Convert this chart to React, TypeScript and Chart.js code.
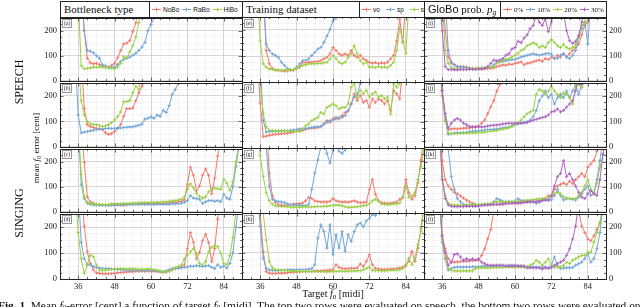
import React, { useEffect, useRef } from "react";
import { Chart, registerables } from "chart.js";

Chart.register(...registerables);

// ---------- axes ----------
const X_MIN = 30;
const X_MAX = 90;
const Y_MIN = 0;
const Y_MAX = 250;
const X_TICKS = [36, 48, 60, 72, 84];
const Y_TICKS = [0, 100, 200];
const X_MINOR = 3;
const Y_MINOR = 25;

// ---------- categories ----------
const BOTTLENECK = ["NoBo", "RaBo", "HiBo"];
const TRAINSET = ["vo", "sp", "si"];
const GLOBO = ["0%", "10%", "20%", "30%"];
const TAGS = ["(a)", "(b)", "(c)", "(d)", "(e)", "(f)", "(g)", "(h)", "(i)", "(j)", "(k)", "(l)"];

// ---------- data (mean f0 error in cent, one value per semitone from the start midi) ----------
// (a) speech / bottleneck type
const A_START = [37, 37, 36];
const A_NOBO = [360, 200, 90, 72, 68, 70, 65, 58, 53, 55, 62, 70, 92, 120, 147, 150, 160, 196, 230, 320];
const A_RABO = [360, 200, 121, 118, 112, 100, 90, 64, 60, 52, 54, 55, 65, 77, 85, 90, 95, 102, 110, 121, 135, 153, 200, 225, 250, 330];
const A_HIBO = [330, 60, 48, 50, 52, 55, 54, 56, 55, 54, 53, 50, 48, 55, 70, 96, 90, 115, 140, 175, 232, 320];
// (b) speech / bottleneck type
const B_START = [37, 35, 36];
const B_NOBO = [350, 151, 87, 80, 76, 73, 70, 68, 55, 49, 52, 61, 72, 87, 120, 150, 150, 152, 181, 212, 237, 330];
const B_RABO = [350, 125, 55, 58, 60, 63, 65, 68, 70, 70, 72, 73, 72, 73, 74, 74, 76, 77, 78, 79, 82, 85, 89, 109, 112, 118, 112, 125, 120, 143, 135, 162, 206, 225, 250, 330];
const B_HIBO = [340, 181, 125, 100, 90, 88, 87, 84, 80, 82, 87, 95, 106, 118, 137, 177, 178, 181, 212, 237, 225, 330];
// (c) singing / bottleneck type
const C_START = [37, 36, 36];
const C_NOBO = [350, 197, 60, 40, 35, 30, 28, 27, 26, 25, 26, 27, 28, 28, 27, 28, 30, 30, 30, 32, 33, 32, 33, 34, 33, 34, 33, 34, 35, 36, 38, 38, 40, 42, 48, 110, 178, 146, 84, 103, 146, 171, 146, 72, 134, 222, 330];
const C_RABO = [350, 109, 53, 34, 30, 28, 27, 26, 26, 25, 26, 27, 27, 28, 28, 29, 30, 30, 30, 31, 30, 31, 30, 30, 30, 29, 30, 31, 30, 30, 31, 32, 32, 33, 34, 38, 45, 65, 55, 53, 50, 34, 40, 45, 45, 42, 45, 40, 70, 55, 50, 100, 180, 260];
const C_HIBO = [340, 150, 60, 38, 33, 32, 30, 30, 29, 28, 30, 32, 33, 32, 33, 34, 33, 34, 35, 35, 36, 37, 38, 37, 38, 38, 39, 38, 40, 40, 42, 44, 45, 47, 50, 60, 90, 112, 95, 75, 62, 55, 60, 80, 92, 95, 92, 90, 130, 115, 85, 120, 200, 280];
// (d) singing / bottleneck type
const D_START = [37, 36, 35];
const D_NOBO = [350, 204, 105, 60, 35, 24, 22, 20, 20, 20, 21, 22, 24, 25, 26, 27, 28, 28, 30, 30, 31, 30, 31, 30, 30, 29, 27, 25, 27, 32, 36, 40, 43, 45, 54, 117, 179, 141, 78, 103, 147, 172, 141, 67, 117, 230, 330];
const D_RABO = [350, 141, 78, 55, 55, 48, 44, 42, 41, 40, 40, 38, 38, 37, 36, 35, 35, 34, 34, 34, 33, 33, 32, 33, 33, 32, 31, 30, 29, 31, 36, 40, 42, 42, 43, 45, 46, 50, 48, 52, 50, 48, 50, 52, 45, 40, 55, 45, 50, 42, 60, 100, 200, 290];
const D_HIBO = [350, 179, 78, 22, 54, 92, 86, 54, 35, 33, 34, 36, 37, 38, 39, 40, 40, 38, 39, 40, 38, 37, 38, 37, 39, 38, 36, 34, 30, 26, 28, 30, 36, 44, 48, 54, 78, 92, 105, 117, 98, 60, 54, 67, 105, 122, 128, 125, 100, 60, 55, 90, 160, 260];
// (e) speech / training dataset
const E_START = [37, 37, 35];
const E_VO = [350, 121, 70, 52, 46, 44, 43, 42, 43, 44, 46, 52, 57, 76, 74, 77, 76, 78, 79, 83, 89, 95, 108, 133, 121, 108, 102, 108, 102, 121, 102, 95, 102, 89, 83, 76, 72, 75, 70, 74, 72, 76, 89, 102, 158, 240, 152, 320];
const E_SP = [330, 146, 121, 108, 102, 95, 76, 64, 52, 48, 48, 57, 70, 83, 83, 89, 102, 114, 127, 133, 152, 177, 202, 234, 246, 330];
const E_SI = [360, 158, 70, 57, 50, 48, 47, 46, 45, 46, 47, 46, 48, 52, 58, 64, 66, 70, 70, 70, 71, 72, 74, 76, 88, 102, 89, 76, 70, 76, 95, 108, 140, 108, 83, 70, 76, 57, 58, 55, 60, 56, 58, 55, 64, 76, 121, 208, 158, 110, 300];
// (f) speech / training dataset
const F_START = [35, 36, 35];
const F_VO = [350, 170, 43, 45, 48, 50, 52, 53, 54, 55, 56, 58, 60, 63, 65, 66, 72, 74, 75, 76, 78, 81, 91, 104, 97, 110, 116, 110, 123, 135, 141, 167, 205, 180, 199, 173, 180, 154, 186, 173, 186, 180, 167, 180, 141, 218, 205, 186, 300];
const F_SP = [330, 104, 60, 62, 63, 64, 64, 65, 66, 66, 67, 68, 70, 72, 73, 74, 75, 78, 80, 80, 82, 91, 97, 104, 106, 110, 116, 116, 123, 141, 167, 193, 205, 243, 330];
const F_SI = [360, 250, 131, 80, 67, 66, 65, 66, 65, 64, 65, 62, 62, 63, 62, 72, 84, 91, 104, 110, 116, 135, 129, 154, 160, 167, 160, 148, 154, 154, 167, 231, 243, 193, 218, 205, 218, 193, 205, 212, 193, 199, 186, 193, 129, 243, 231, 243, 320];
// (g) singing / training dataset
const G_START = [38, 37, 35];
const G_VO = [350, 154, 66, 41, 32, 30, 29, 30, 32, 35, 35, 36, 38, 47, 60, 56, 47, 44, 42, 43, 42, 45, 56, 47, 44, 42, 43, 41, 44, 47, 42, 40, 40, 42, 91, 129, 72, 47, 40, 38, 37, 38, 40, 42, 53, 60, 129, 78, 53, 66, 116, 204, 300];
const G_SP = [350, 250, 104, 53, 47, 44, 42, 40, 35, 32, 31, 30, 30, 29, 28, 34, 91, 154, 204, 255, 280, 230, 192, 242, 260, 238, 230, 242, 300];
const G_SI = [360, 220, 141, 78, 47, 34, 28, 26, 25, 25, 24, 23, 23, 22, 23, 23, 24, 23, 24, 24, 25, 25, 26, 26, 28, 30, 30, 30, 28, 24, 22, 22, 23, 24, 26, 28, 30, 35, 47, 53, 45, 35, 33, 32, 33, 35, 35, 38, 60, 104, 60, 66, 78, 128, 179, 242];
// (h) singing / training dataset
const H_START = [35, 35, 36];
const H_VO = [350, 250, 103, 28, 22, 21, 21, 22, 22, 23, 24, 25, 26, 27, 27, 28, 28, 29, 29, 30, 30, 31, 32, 33, 34, 35, 54, 44, 40, 39, 40, 41, 40, 42, 57, 48, 67, 92, 54, 40, 38, 37, 36, 37, 38, 38, 40, 42, 45, 50, 67, 105, 67, 117, 193, 290];
const H_SP = [350, 200, 79, 40, 34, 33, 32, 32, 33, 33, 34, 35, 35, 35, 36, 36, 36, 37, 40, 54, 155, 205, 180, 117, 205, 92, 168, 117, 180, 105, 168, 142, 180, 205, 212, 198, 220, 230, 245, 240, 255, 300];
const H_SI = [350, 250, 147, 67, 42, 35, 34, 33, 33, 31, 30, 30, 30, 29, 29, 29, 28, 28, 28, 28, 28, 28, 27, 28, 29, 29, 30, 30, 29, 30, 31, 30, 31, 32, 35, 40, 45, 33, 32, 32, 31, 31, 32, 33, 33, 34, 35, 40, 54, 79, 54, 79, 130, 180, 270];
// (i) speech / GloBo probability
const I_START = [36, 37, 36, 35];
const I_P0 = [350, 200, 95, 70, 64, 58, 57, 56, 55, 52, 50, 49, 48, 47, 48, 49, 50, 52, 57, 60, 64, 62, 67, 65, 70, 72, 76, 64, 70, 72, 76, 80, 83, 78, 89, 85, 95, 89, 102, 95, 108, 95, 108, 121, 133, 146, 183, 221, 234, 320];
const I_P10 = [330, 121, 76, 64, 56, 55, 54, 53, 50, 48, 47, 48, 50, 52, 52, 55, 64, 76, 76, 78, 80, 83, 84, 86, 90, 95, 98, 102, 105, 108, 105, 102, 105, 108, 110, 106, 89, 90, 102, 108, 95, 89, 102, 121, 171, 208, 234, 146, 320];
const I_P20 = [330, 121, 70, 52, 48, 47, 46, 46, 47, 48, 49, 50, 52, 51, 52, 53, 54, 57, 70, 76, 83, 86, 89, 95, 102, 110, 121, 127, 140, 146, 152, 146, 133, 140, 133, 152, 165, 152, 140, 133, 146, 133, 127, 133, 146, 171, 221, 234, 320];
const I_P30 = [350, 200, 57, 45, 45, 44, 44, 45, 45, 45, 46, 46, 46, 47, 48, 50, 57, 70, 83, 80, 83, 89, 102, 108, 127, 133, 158, 152, 171, 183, 208, 221, 259, 234, 221, 246, 196, 234, 280, 300, 290, 270, 200, 160, 150, 158, 180, 234, 300];
// (j) speech / GloBo probability
const J_START = [35, 35, 35, 35];
const J_P0 = [350, 200, 105, 68, 70, 72, 70, 72, 73, 74, 74, 78, 80, 82, 93, 105, 130, 156, 181, 219, 244, 330];
const J_P10 = [350, 220, 118, 49, 52, 54, 55, 55, 56, 57, 60, 62, 62, 63, 64, 66, 68, 68, 69, 70, 72, 74, 76, 78, 82, 87, 90, 93, 96, 99, 105, 118, 143, 181, 200, 219, 193, 206, 168, 193, 206, 193, 219, 193, 219, 244, 206, 244, 300];
const J_P20 = [350, 230, 100, 55, 52, 52, 52, 53, 53, 54, 54, 55, 55, 56, 57, 58, 60, 62, 63, 64, 68, 70, 72, 75, 80, 87, 95, 105, 118, 130, 137, 143, 206, 225, 219, 206, 219, 238, 219, 206, 193, 212, 206, 193, 168, 238, 244, 232, 300];
const J_P30 = [350, 220, 130, 74, 93, 105, 112, 105, 93, 87, 80, 78, 77, 78, 78, 79, 82, 84, 85, 86, 87, 90, 91, 93, 92, 93, 92, 93, 94, 95, 100, 105, 108, 112, 115, 118, 125, 137, 140, 149, 137, 143, 156, 168, 181, 219, 280, 244, 300];
// (k) singing / GloBo probability
const K_START = [35, 37, 35, 35];
const K_P0 = [350, 204, 128, 103, 90, 78, 72, 63, 55, 47, 40, 34, 30, 28, 28, 28, 29, 30, 30, 30, 31, 31, 33, 34, 34, 35, 35, 36, 38, 39, 40, 41, 42, 45, 47, 50, 65, 62, 90, 103, 109, 115, 108, 122, 112, 128, 140, 153, 140, 178, 191, 204, 242, 320];
const K_P10 = [350, 250, 140, 90, 53, 40, 30, 28, 27, 27, 28, 28, 29, 30, 30, 32, 40, 53, 48, 42, 40, 40, 41, 42, 53, 45, 43, 44, 43, 42, 34, 38, 45, 47, 46, 48, 65, 90, 65, 47, 52, 53, 50, 47, 59, 72, 90, 103, 65, 78, 128, 204, 300];
const K_P20 = [350, 140, 65, 34, 28, 27, 27, 26, 26, 27, 27, 28, 29, 30, 30, 31, 31, 32, 38, 40, 41, 40, 40, 41, 41, 42, 42, 42, 45, 46, 47, 48, 50, 52, 53, 55, 59, 65, 72, 78, 72, 60, 55, 53, 52, 53, 65, 78, 103, 128, 90, 72, 115, 178, 229, 300];
const K_P30 = [350, 128, 53, 28, 22, 21, 21, 21, 21, 22, 22, 22, 22, 23, 25, 27, 28, 28, 29, 30, 30, 32, 33, 34, 34, 35, 35, 36, 38, 39, 40, 40, 41, 42, 45, 47, 48, 65, 103, 140, 153, 204, 140, 153, 128, 103, 78, 59, 53, 72, 84, 72, 65, 128, 229, 300];
// (l) singing / GloBo probability
const L_START = [35, 35, 35, 35];
const L_P0 = [330, 166, 116, 78, 65, 65, 66, 67, 68, 68, 70, 71, 72, 72, 91, 116, 154, 191, 260, 330,
  null, null, null, null, null, null, null, null, null, null, null, null, null, null, null, null, null, null, null, null, null, null, null, null, null,
  330, 260, 204, 179, 154, 147, 166, 191, 216, 260];
const L_P10 = [330, 141, 78, 34, 40, 45, 46, 46, 46, 46, 46, 47, 47, 48, 49, 50, 50, 50, 50, 50, 51, 51, 52, 53, 53, 53, 52, 50, 47, 46, 46, 46, 46, 45, 46, 46, 40, 53, 85, 53, 40, 42, 43, 43, 44, 53, 59, 65, 78, 97, 65, 78, 116, 179, 280];
const L_P20 = [330, 154, 78, 40, 34, 31, 31, 31, 31, 31, 31, 32, 40, 43, 43, 43, 43, 43, 44, 44, 44, 44, 46, 46, 46, 46, 46, 46, 46, 47, 53, 59, 72, 65, 53, 65, 78, 53, 46, 46, 46, 53, 65, 59, 72, 78, 85, 91, 91, 103, 103, 141, 179, 216, 300];
const L_P30 = [330, 166, 103, 53, 65, 94, 97, 85, 72, 78, 72, 78, 72, 78, 65, 59, 53, 53, 53, 53, 53, 53, 50, 50, 50, 50, 50, 50, 50, 43, 43, 43, 43, 43, 38, 43, 43, 43, 53, 59, 65, 72, 91, 116, 154, 204, 300];

// ---------- styling ----------
const COLORS = ["#f2786b", "#72a6d8", "#9bcf45", "#ab65c1"];
const SERIF = '"Liberation Serif", "Times New Roman", serif';
const SANS = '"Liberation Sans", Arial, sans-serif';

const COL_LEFT = [60, 242, 424];
const PLOT_W = 182;
const ROW_TOP = [17, 82, 148, 213];
const ROW_H = [65, 66, 65, 66];
const AXIS_W = 36;
const AXIS_H = 16;
const PAD_X = 3;
const PAD_Y = 7;

const PANELS = [
  { row: 0, col: 0, starts: A_START, series: [A_NOBO, A_RABO, A_HIBO] },
  { row: 1, col: 0, starts: B_START, series: [B_NOBO, B_RABO, B_HIBO] },
  { row: 2, col: 0, starts: C_START, series: [C_NOBO, C_RABO, C_HIBO] },
  { row: 3, col: 0, starts: D_START, series: [D_NOBO, D_RABO, D_HIBO] },
  { row: 0, col: 1, starts: E_START, series: [E_VO, E_SP, E_SI] },
  { row: 1, col: 1, starts: F_START, series: [F_VO, F_SP, F_SI] },
  { row: 2, col: 1, starts: G_START, series: [G_VO, G_SP, G_SI] },
  { row: 3, col: 1, starts: H_START, series: [H_VO, H_SP, H_SI] },
  { row: 0, col: 2, starts: I_START, series: [I_P0, I_P10, I_P20, I_P30] },
  { row: 1, col: 2, starts: J_START, series: [J_P0, J_P10, J_P20, J_P30] },
  { row: 2, col: 2, starts: K_START, series: [K_P0, K_P10, K_P20, K_P30] },
  { row: 3, col: 2, starts: L_START, series: [L_P0, L_P10, L_P20, L_P30] },
];
const COL_NAMES = [BOTTLENECK, TRAINSET, GLOBO];

function range(a: number, b: number, step: number) {
  const out: number[] = [];
  for (let v = a; v <= b + 1e-9; v += step) out.push(v);
  return out;
}

const framePlugin = {
  id: "frame",
  afterDraw(chart: any) {
    const { ctx, chartArea: a } = chart;
    const xs = chart.scales.x;
    const ys = chart.scales.y;
    ctx.save();
    ctx.strokeStyle = "#444";
    ctx.lineWidth = 0.8;
    ctx.beginPath();
    range(X_MIN + X_MINOR, X_MAX - X_MINOR, X_MINOR).forEach((v) => {
      const px = Math.round(xs.getPixelForValue(v)) + 0.5;
      const len = X_TICKS.includes(v) ? 3.5 : 2;
      ctx.moveTo(px, a.top);
      ctx.lineTo(px, a.top + len);
      ctx.moveTo(px, a.bottom);
      ctx.lineTo(px, a.bottom - len);
    });
    range(Y_MIN + Y_MINOR, Y_MAX - Y_MINOR, Y_MINOR).forEach((v) => {
      const py = Math.round(ys.getPixelForValue(v)) + 0.5;
      const len = Y_TICKS.includes(v) ? 3.5 : 2;
      ctx.moveTo(a.left, py);
      ctx.lineTo(a.left + len, py);
      ctx.moveTo(a.right, py);
      ctx.lineTo(a.right - len, py);
    });
    ctx.stroke();
    ctx.lineWidth = 1;
    ctx.strokeStyle = "#222";
    ctx.strokeRect(
      Math.round(a.left) + 0.5,
      Math.round(a.top) + 0.5,
      Math.round(a.right - a.left),
      Math.round(a.bottom - a.top)
    );
    ctx.restore();
  },
};

function Panel({ p }: { p: any }) {
  const ref = useRef<HTMLCanvasElement>(null);
  const { row, col } = p;
  const leftSpace = col === 0 ? AXIS_W : PAD_X;
  const rightSpace = col === 2 ? AXIS_W : PAD_X;
  const bottomSpace = row === 3 ? AXIS_H : PAD_Y;
  const w = leftSpace + PLOT_W + rightSpace;
  const h = PAD_Y + ROW_H[row] + bottomSpace;
  const left = COL_LEFT[col] - leftSpace;
  const top = ROW_TOP[row] - PAD_Y;

  useEffect(() => {
    const names = COL_NAMES[col];
    const n = p.series.length;
    const chart = new Chart(ref.current!, {
      type: "line",
      data: {
        datasets: p.series.map((vals: (number | null)[], i: number) => ({
          label: names[i],
          data: vals.map((y, k) => ({ x: p.starts[i] + k, y })),
          borderColor: COLORS[i],
          backgroundColor: COLORS[i],
          borderWidth: 1,
          pointStyle: "cross",
          pointRadius: 1.7,
          pointBorderWidth: 0.9,
          pointBorderColor: COLORS[i],
          pointHoverRadius: 0,
          tension: 0,
          spanGaps: false,
          order: n - i,
        })),
      },
      options: {
        responsive: false,
        animation: false,
        events: [],
        layout: {
          padding: {
            left: col === 0 ? 0 : PAD_X,
            right: col === 2 ? 0 : PAD_X,
            top: PAD_Y,
            bottom: row === 3 ? 0 : PAD_Y,
          },
        },
        plugins: { legend: { display: false }, tooltip: { enabled: false } },
        scales: {
          x: {
            type: "linear",
            min: X_MIN,
            max: X_MAX,
            afterBuildTicks: (s: any) => {
              s.ticks = range(X_MIN, X_MAX, X_MINOR).map((v) => ({ value: v }));
            },
            afterFit: (s: any) => {
              s.height = row === 3 ? AXIS_H : 0;
            },
            ticks: {
              display: row === 3,
              autoSkip: false,
              maxRotation: 0,
              padding: 3,
              color: "#222",
              font: { family: SERIF, size: 8.5 },
              callback: (v: any) => (X_TICKS.includes(Number(v)) ? String(v) : ""),
            },
            grid: {
              drawTicks: false,
              lineWidth: 0.8,
              color: (c: any) =>
                X_TICKS.includes(c.tick && c.tick.value) ? "#cccccc" : "rgba(0,0,0,0.05)",
            },
            border: { display: false },
          },
          y: {
            type: "linear",
            min: Y_MIN,
            max: Y_MAX,
            position: col === 2 ? "right" : "left",
            afterBuildTicks: (s: any) => {
              s.ticks = range(Y_MIN, Y_MAX, Y_MINOR).map((v) => ({ value: v }));
            },
            afterFit: (s: any) => {
              s.width = col === 1 ? 0 : AXIS_W;
            },
            ticks: {
              display: col !== 1,
              autoSkip: false,
              padding: 3,
              color: "#222",
              font: { family: SERIF, size: 8.5 },
              callback: (v: any) => (Y_TICKS.includes(Number(v)) ? String(v) : ""),
            },
            grid: {
              drawTicks: false,
              lineWidth: 0.8,
              color: (c: any) =>
                Y_TICKS.includes(c.tick && c.tick.value) ? "#cccccc" : "rgba(0,0,0,0.05)",
            },
            border: { display: false },
          },
        },
      } as any,
      plugins: [framePlugin],
    });
    return () => chart.destroy();
  }, []);

  return (
    <canvas
      ref={ref}
      width={w}
      height={h}
      style={{ position: "absolute", left, top, width: w, height: h }}
    />
  );
}

function Icon({ color }: { color: string }) {
  return (
    <svg width={9} height={7} style={{ display: "block", marginRight: 2 }}>
      <line x1={0} y1={3.5} x2={9} y2={3.5} stroke={color} strokeWidth={1} />
      <line x1={4.5} y1={1.5} x2={4.5} y2={5.5} stroke={color} strokeWidth={1} />
    </svg>
  );
}

const HEADERS = [
  { title: <span>Bottleneck type</span>, divider: 88, font: SANS, size: 6.5, gap: 3 },
  { title: <span>Training dataset</span>, divider: 116, font: SANS, size: 6.5, gap: 6 },
  {
    title: (
      <span>
        <span style={{ fontFamily: SANS }}>GloBo</span> prob.{" "}
        <i>p</i>
        <i style={{ fontSize: 7.5, position: "relative", top: 2 }}>g</i>
      </span>
    ),
    divider: 75,
    font: SERIF,
    size: 7,
    gap: 3,
  },
];

function Header({ c }: { c: number }) {
  const hd = HEADERS[c];
  const names = COL_NAMES[c];
  return (
    <div
      style={{
        position: "absolute",
        left: COL_LEFT[c],
        top: 1,
        width: PLOT_W + 1,
        height: 17,
        border: "1px solid #222",
        boxSizing: "border-box",
        background: "#fff",
      }}
    >
      <div
        style={{
          position: "absolute",
          left: 3,
          top: 0,
          height: 15,
          lineHeight: "15px",
          fontSize: 11,
          whiteSpace: "nowrap",
        }}
      >
        {hd.title}
      </div>
      <div
        style={{ position: "absolute", left: hd.divider, top: 0, bottom: 0, borderLeft: "1px solid #222" }}
      />
      <div
        style={{
          position: "absolute",
          left: hd.divider + 3,
          top: 0,
          height: 15,
          display: "flex",
          alignItems: "center",
          fontSize: hd.size,
          fontFamily: hd.font,
          whiteSpace: "nowrap",
        }}
      >
        {names.map((nm, i) => (
          <div key={nm} style={{ display: "flex", alignItems: "center", marginRight: hd.gap }}>
            <Icon color={COLORS[i]} />
            <span>{nm}</span>
          </div>
        ))}
      </div>
    </div>
  );
}

const rot = (x: number, y: number, size: number, extra: any = {}) => ({
  position: "absolute" as const,
  left: x,
  top: y,
  transform: "translate(-50%, -50%) rotate(-90deg)",
  fontSize: size,
  whiteSpace: "nowrap" as const,
  ...extra,
});

export default function App() {
  return (
    <div
      style={{
        position: "fixed",
        left: 0,
        top: 0,
        width: 640,
        height: 307,
        overflow: "hidden",
        background: "#fff",
        fontFamily: SERIF,
        color: "#111",
      }}
    >
      {PANELS.map((p, i) => (
        <Panel key={i} p={p} />
      ))}
      {[0, 1, 2].map((c) => (
        <Header key={c} c={c} />
      ))}
      {PANELS.map((p, i) => (
        <div
          key={"t" + i}
          style={{
            position: "absolute",
            left: COL_LEFT[p.col] + 2,
            top: ROW_TOP[p.row] + 2,
            height: 7,
            lineHeight: "7px",
            fontSize: 5.5,
            padding: "0 1px",
            border: "0.6px solid #999",
            background: "#fff",
          }}
        >
          {TAGS[i]}
        </div>
      ))}
      <div style={rot(19, 82, 12)}>SPEECH</div>
      <div style={rot(19, 213, 12)}>SINGING</div>
      <div style={rot(36, 148, 9)}>
        mean <i>f</i>
        <span style={{ fontSize: 6.5, position: "relative", top: 2 }}>0</span> error [cent]
      </div>
      <div
        style={{
          position: "absolute",
          left: 333,
          top: 293,
          transform: "translate(-50%, -50%)",
          fontSize: 10,
          whiteSpace: "nowrap",
        }}
      >
        Target <i>f</i>
        <span style={{ fontSize: 7, position: "relative", top: 2 }}>0</span> [midi]
      </div>
      <div
        style={{
          position: "absolute",
          left: -2,
          top: 299,
          fontSize: 11.35,
          lineHeight: "12px",
          whiteSpace: "nowrap",
        }}
      >
        <b>Fig. 1.</b> Mean <i>f</i>
        <span style={{ fontSize: 7.5, position: "relative", top: 2 }}>0</span>-error [cent] a function of target{" "}
        <i>f</i>
        <span style={{ fontSize: 7.5, position: "relative", top: 2 }}>0</span> [midi]. The top two rows were
        evaluated on speech, the bottom two rows were evaluated on singing.
      </div>
    </div>
  );
}
